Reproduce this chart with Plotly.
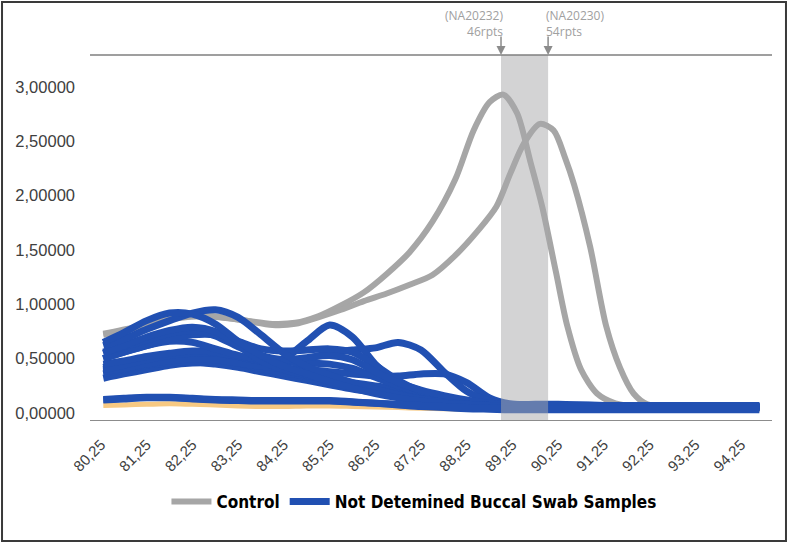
import plotly.graph_objects as go

# ---------------- data ----------------
# Control curves (own x grids)
control_1_x = [80.3, 81.0, 81.75, 82.5, 83.25, 84.0, 84.5, 85.0, 85.5, 86.0, 86.5, 87.0, 87.5, 88.0,
               88.4, 88.75, 89.05, 89.35, 89.65, 89.9, 90.2, 90.45, 90.75, 91.1, 91.5, 92.0, 93.0, 94.65]
control_1_y = [0.73, 0.79, 0.87, 0.90, 0.86, 0.82, 0.83, 0.89, 0.99, 1.11, 1.28, 1.48, 1.76, 2.15,
               2.60, 2.86, 2.93, 2.76, 2.30, 1.90, 1.30, 0.80, 0.40, 0.18, 0.09, 0.06, 0.05, 0.05]
control_2_x = [80.3, 81.0, 81.75, 82.5, 83.25, 84.0, 84.5, 85.0, 85.5, 86.0, 86.5, 87.0, 87.5, 88.0,
               88.5, 88.9, 89.2, 89.5, 89.85, 90.15, 90.4, 90.6, 90.95, 91.3, 91.6, 91.9, 92.2, 92.6,
               93.5, 94.65]
control_2_y = [0.72, 0.78, 0.86, 0.89, 0.86, 0.81, 0.82, 0.88, 0.95, 1.03, 1.10, 1.18, 1.27, 1.45,
               1.68, 1.90, 2.20, 2.48, 2.66, 2.60, 2.35, 2.10, 1.53, 0.80, 0.42, 0.18, 0.08, 0.06,
               0.05, 0.05]

# Buccal swab samples (shared x grid)
sample_x = [80.3, 80.75, 81.25, 81.75, 82.25, 82.75, 83.25, 83.75, 84.25, 84.75, 85.25, 85.75, 86.25,
            86.75, 87.25, 87.75, 88.25, 88.75, 89.25, 89.75, 90.25, 91.25, 92.25, 93.25, 94.25, 94.65]
sample_a = [0.65, 0.74, 0.85, 0.92, 0.91, 0.82, 0.66, 0.53, 0.43, 0.36, 0.29, 0.23, 0.18, 0.14, 0.11, 0.09, 0.08, 0.07, 0.06, 0.06, 0.06, 0.06, 0.05, 0.05, 0.05, 0.05]
sample_b = [0.62, 0.68, 0.77, 0.85, 0.92, 0.95, 0.88, 0.72, 0.55, 0.43, 0.35, 0.28, 0.22, 0.17, 0.13, 0.10, 0.08, 0.07, 0.07, 0.07, 0.07, 0.06, 0.06, 0.06, 0.06, 0.06]
sample_c = [0.45, 0.48, 0.52, 0.55, 0.57, 0.56, 0.52, 0.48, 0.50, 0.66, 0.81, 0.70, 0.45, 0.27, 0.17, 0.12, 0.09, 0.07, 0.06, 0.06, 0.06, 0.06, 0.06, 0.05, 0.05, 0.05]
sample_d = [0.40, 0.44, 0.49, 0.53, 0.55, 0.55, 0.52, 0.48, 0.47, 0.50, 0.55, 0.58, 0.60, 0.65, 0.58, 0.38, 0.20, 0.11, 0.08, 0.07, 0.07, 0.07, 0.06, 0.06, 0.06, 0.06]
sample_e = [0.38, 0.41, 0.45, 0.48, 0.50, 0.49, 0.46, 0.43, 0.41, 0.40, 0.38, 0.36, 0.34, 0.34, 0.36, 0.36, 0.28, 0.14, 0.08, 0.07, 0.07, 0.06, 0.06, 0.06, 0.06, 0.06]
sample_f = [0.50, 0.56, 0.62, 0.68, 0.72, 0.72, 0.66, 0.59, 0.57, 0.58, 0.59, 0.56, 0.44, 0.30, 0.20, 0.14, 0.10, 0.08, 0.07, 0.07, 0.07, 0.07, 0.07, 0.07, 0.07, 0.07]
sample_g = [0.55, 0.62, 0.70, 0.76, 0.79, 0.75, 0.62, 0.48, 0.40, 0.35, 0.30, 0.25, 0.20, 0.15, 0.12, 0.10, 0.08, 0.07, 0.06, 0.06, 0.06, 0.06, 0.06, 0.06, 0.06, 0.06]
sample_h = [0.42, 0.46, 0.50, 0.53, 0.53, 0.51, 0.46, 0.41, 0.37, 0.34, 0.31, 0.28, 0.25, 0.22, 0.18, 0.14, 0.10, 0.08, 0.07, 0.06, 0.06, 0.06, 0.05, 0.05, 0.05, 0.05]
sample_i = [0.36, 0.40, 0.44, 0.46, 0.47, 0.45, 0.42, 0.38, 0.34, 0.30, 0.26, 0.22, 0.19, 0.16, 0.13, 0.10, 0.08, 0.07, 0.06, 0.06, 0.05, 0.05, 0.05, 0.05, 0.05, 0.05]
sample_j = [0.50, 0.56, 0.62, 0.66, 0.65, 0.59, 0.53, 0.49, 0.47, 0.46, 0.45, 0.41, 0.33, 0.25, 0.19, 0.15, 0.11, 0.08, 0.07, 0.07, 0.07, 0.06, 0.06, 0.06, 0.06, 0.06]
sample_k = [0.56, 0.61, 0.67, 0.73, 0.76, 0.71, 0.61, 0.53, 0.49, 0.51, 0.53, 0.49, 0.38, 0.28, 0.21, 0.16, 0.12, 0.09, 0.08, 0.08, 0.08, 0.07, 0.07, 0.07, 0.07, 0.07]
sample_m = [0.32, 0.36, 0.40, 0.44, 0.46, 0.46, 0.44, 0.40, 0.36, 0.32, 0.28, 0.24, 0.20, 0.17, 0.14, 0.11, 0.09, 0.07, 0.06, 0.06, 0.05, 0.05, 0.05, 0.05, 0.05, 0.05]
sample_l = [0.12, 0.13, 0.14, 0.14, 0.13, 0.12, 0.115, 0.11, 0.11, 0.11, 0.11, 0.10, 0.09, 0.08, 0.07, 0.06, 0.05, 0.045, 0.04, 0.04, 0.04, 0.04, 0.04, 0.04, 0.04, 0.04]
sample_n = [0.125, 0.135, 0.145, 0.145, 0.135, 0.125, 0.12, 0.115, 0.115, 0.115, 0.115, 0.105, 0.09, 0.075, 0.06, 0.05, 0.04, 0.035, 0.03, 0.03, 0.03, 0.03, 0.03, 0.03, 0.03, 0.03]
sample_orange = [0.07, 0.075, 0.08, 0.085, 0.08, 0.075, 0.065, 0.06, 0.06, 0.065, 0.065, 0.06, 0.055, 0.05, 0.045, 0.04, 0.035, 0.035, 0.03, 0.03, 0.03, 0.03, 0.03, 0.03, 0.03, 0.03]

x_tick_values = [80.25, 81.25, 82.25, 83.25, 84.25, 85.25, 86.25, 87.25, 88.25, 89.25, 90.25, 91.25, 92.25, 93.25, 94.25]
x_tick_labels = ["80,25", "81,25", "82,25", "83,25", "84,25", "85,25", "86,25", "87,25", "88,25",
                 "89,25", "90,25", "91,25", "92,25", "93,25", "94,25"]
y_tick_values = [0, 0.5, 1.0, 1.5, 2.0, 2.5, 3.0]

band_start = 89.0
band_end = 90.03
marker_labels = ["(NA20232)<br>46rpts", "(NA20230)<br>54rpts"]

# ---------------- style ----------------
GRAY = "#a6a6a6"
BLUE = "#2150b2"
ORANGE = "#f7c982"

fig = go.Figure()

fig.add_trace(go.Scatter(x=sample_x, y=sample_orange, mode="lines", showlegend=False,
                         line=dict(color=ORANGE, width=5, shape="spline", smoothing=0.8)))

for i, (cx, cy) in enumerate([(control_1_x, control_1_y), (control_2_x, control_2_y)]):
    fig.add_trace(go.Scatter(x=cx, y=cy, mode="lines", name="Control", legendgroup="c",
                             showlegend=(i == 0),
                             line=dict(color=GRAY, width=6, shape="spline", smoothing=0.8)))

samples = [sample_m, sample_i, sample_h, sample_e, sample_d, sample_c, sample_j, sample_f,
           sample_k, sample_g, sample_b, sample_a, sample_n, sample_l]
for i, s in enumerate(samples):
    fig.add_trace(go.Scatter(x=sample_x, y=s, mode="lines",
                             name="Not Detemined Buccal Swab Samples", legendgroup="b",
                             showlegend=(i == 0),
                             line=dict(color=BLUE, width=7, shape="spline", smoothing=0.8)))

shapes = [
    dict(type="rect", xref="x", yref="paper", x0=band_start, x1=band_end, y0=0, y1=1,
         fillcolor="rgb(168,168,170)", opacity=0.5, line=dict(width=0), layer="above"),
    dict(type="line", xref="paper", yref="paper", x0=0, x1=1, y0=1, y1=1,
         line=dict(color="#7f7f7f", width=1.5)),
    dict(type="rect", xref="paper", yref="paper", x0=-0.129, x1=1.0205, y0=-0.3315, y1=1.145,
         line=dict(color="#3a3a3a", width=2)),
]

annotations = [
    dict(x=band_start, y=1, xref="x", yref="paper", text="", showarrow=True, ax=0, ay=-20,
         arrowhead=2, arrowsize=1.2, arrowwidth=1.5, arrowcolor="#8c8c8c"),
    dict(x=band_end, y=1, xref="x", yref="paper", text="", showarrow=True, ax=0, ay=-20,
         arrowhead=2, arrowsize=1.2, arrowwidth=1.5, arrowcolor="#8c8c8c"),
    dict(x=band_start, y=1.044, xref="x", yref="paper", text=marker_labels[0], showarrow=False,
         xanchor="right", yanchor="bottom", align="right", xshift=4, yshift=-3,
         font=dict(family="Open Sans", size=12, color="#a0a0a0")),
    dict(x=band_end, y=1.044, xref="x", yref="paper", text=marker_labels[1], showarrow=False,
         xanchor="left", yanchor="bottom", align="left", xshift=-4, yshift=-3,
         font=dict(family="Open Sans", size=12, color="#a0a0a0")),
]

fig.update_layout(
    width=789, height=544,
    margin=dict(l=90, r=17, t=55, b=124),
    paper_bgcolor="white", plot_bgcolor="white",
    separators=",.",
    shapes=shapes, annotations=annotations,
    showlegend=True,
    legend=dict(orientation="h", x=0.475, xanchor="center", y=-0.2247, yanchor="middle",
                font=dict(family="DejaVu Sans Condensed", size=17, color="#000000", weight="bold"),
                itemwidth=40, tracegroupgap=0, bgcolor="rgba(0,0,0,0)"),
    xaxis=dict(range=[80.009, 94.928], tickmode="array", tickvals=x_tick_values,
               ticktext=x_tick_labels, tickangle=-45, showgrid=False, zeroline=False,
               showline=True, linecolor="#8c8c8c", linewidth=1.2, ticks="",
               ticklabelstandoff=9,
               tickfont=dict(family="Liberation Sans", size=15, color="#404040")),
    yaxis=dict(range=[-0.064, 3.294], tickmode="array", tickvals=y_tick_values,
               tickformat=".5f", showgrid=False, zeroline=False, showline=False, ticks="",
               ticklabelstandoff=14,
               tickfont=dict(family="Liberation Sans", size=16.5, color="#404040")),
)

fig.write_html("out.html")
